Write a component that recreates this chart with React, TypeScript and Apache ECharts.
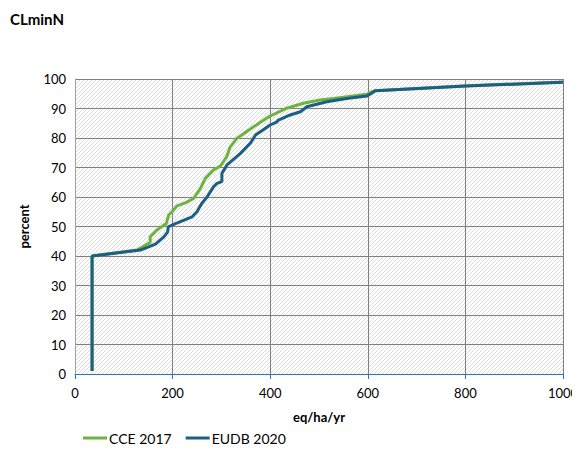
import React, { useEffect, useRef } from "react";
import * as echarts from "echarts";

const chartTitle = "CLminN";
const xTitle = "eq/ha/yr";
const yTitle = "percent";
const seriesNames = ["CCE 2017", "EUDB 2020"];

const cceX = [35, 35, 127, 151, 154, 154, 168, 187, 192, 199, 209, 226, 243, 257, 267, 284, 298, 311, 318, 332, 366, 397, 434, 468, 502, 530, 598, 609, 615, 803, 1000];
const cceY = [1, 40, 42, 44.3, 44.5, 46.5, 48.8, 51, 53.9, 55, 57, 58, 59.5, 62.9, 66.3, 69.2, 70.5, 73.7, 77, 79.9, 83.8, 87.2, 90.1, 91.8, 92.9, 93.4, 94.8, 95.7, 96, 97.7, 99];

const eudbX = [35, 35, 134, 165, 182, 190, 191, 206, 240, 250, 260, 271, 284, 291, 301, 301, 311, 339, 359, 370, 400, 414, 417, 441, 462, 475, 516, 557, 598, 607, 615, 803, 1000];
const eudbY = [1, 40, 42, 44, 46.5, 48.2, 49.9, 51, 53.3, 55, 57.9, 60.1, 63.5, 64.6, 65.2, 68, 70.8, 74.8, 78.2, 81, 84.4, 85.5, 86.1, 87.8, 88.9, 90.6, 92.3, 93.4, 94.2, 95.1, 96, 97.6, 98.9];

const zip = (xs: number[], ys: number[]) => xs.map((x, i) => [x, ys[i]]);

function makeHatch() {
  const c = document.createElement("canvas");
  c.width = 8;
  c.height = 8;
  const ctx = c.getContext("2d")!;
  ctx.fillStyle = "#ffffff";
  ctx.fillRect(0, 0, 8, 8);
  ctx.strokeStyle = "#dcdcdc";
  ctx.lineWidth = 1;
  for (let k = -8; k <= 16; k += 4) {
    ctx.beginPath();
    ctx.moveTo(k, 8);
    ctx.lineTo(k + 8, 0);
    ctx.stroke();
  }
  return c;
}

const FONT = "Lato, 'Open Sans', sans-serif";

export default function App() {
  const ref = useRef<HTMLDivElement>(null);
  useEffect(() => {
    if (!ref.current) return;
    const chart = echarts.init(ref.current, undefined, { renderer: "svg" });
    const hatch = makeHatch();
    chart.setOption({
      animation: false,
      backgroundColor: "#ffffff",
      textStyle: { fontFamily: FONT },
      title: {
        text: chartTitle,
        left: -3,
        top: -2,
        textStyle: { fontFamily: FONT, fontSize: 15, fontWeight: "bold", color: "#000" },
      },
      grid: {
        left: 67,
        right: 25,
        top: 71,
        bottom: 84,
        show: true,
        borderWidth: 0,
        backgroundColor: { image: hatch, repeat: "repeat" },
      },
      legend: {
        left: 70,
        top: 418,
        icon: "rect",
        itemWidth: 24,
        itemHeight: 3,
        itemGap: 14,
        textStyle: { fontFamily: FONT, fontSize: 14, color: "#000", padding: [0, 0, 0, -3] },
        data: seriesNames,
      },
      xAxis: {
        type: "value",
        min: 0,
        max: 1000,
        interval: 200,
        name: xTitle,
        nameLocation: "middle",
        nameGap: 36,
        nameTextStyle: { fontFamily: FONT, fontSize: 13, fontWeight: "bold", color: "#000" },
        axisLine: { show: true, lineStyle: { color: "#2e75b6", width: 1 } },
        axisTick: { show: true, length: 5, lineStyle: { color: "#2e75b6" } },
        axisLabel: { fontFamily: FONT, fontSize: 13, color: "#000", margin: 12, formatter: (v: number) => String(v) },
        splitLine: { show: true, lineStyle: { color: "#808080", width: 1 } },
      },
      yAxis: {
        type: "value",
        min: 0,
        max: 100,
        interval: 10,
        name: yTitle,
        nameLocation: "middle",
        nameGap: 45,
        nameRotate: 90,
        nameTextStyle: { fontFamily: FONT, fontSize: 13, fontWeight: "bold", color: "#000" },
        axisLine: { show: true, lineStyle: { color: "#a0a0a0", width: 1 } },
        axisTick: { show: false },
        axisLabel: { fontFamily: FONT, fontSize: 13, color: "#000", margin: 9 },
        splitLine: { show: true, lineStyle: { color: "#808080", width: 1 } },
      },
      series: [
        {
          name: seriesNames[0],
          type: "line",
          data: zip(cceX, cceY),
          showSymbol: false,
          symbol: "none",
          lineStyle: { color: "#6db33f", width: 3 },
          itemStyle: { color: "#6db33f" },
        },
        {
          name: seriesNames[1],
          type: "line",
          data: zip(eudbX, eudbY),
          showSymbol: false,
          symbol: "none",
          lineStyle: { color: "#1c5f86", width: 3 },
          itemStyle: { color: "#1c5f86" },
        },
      ],
    });
    return () => chart.dispose();
  }, []);
  return <div ref={ref} style={{ width: 580, height: 450 }} />;
}
